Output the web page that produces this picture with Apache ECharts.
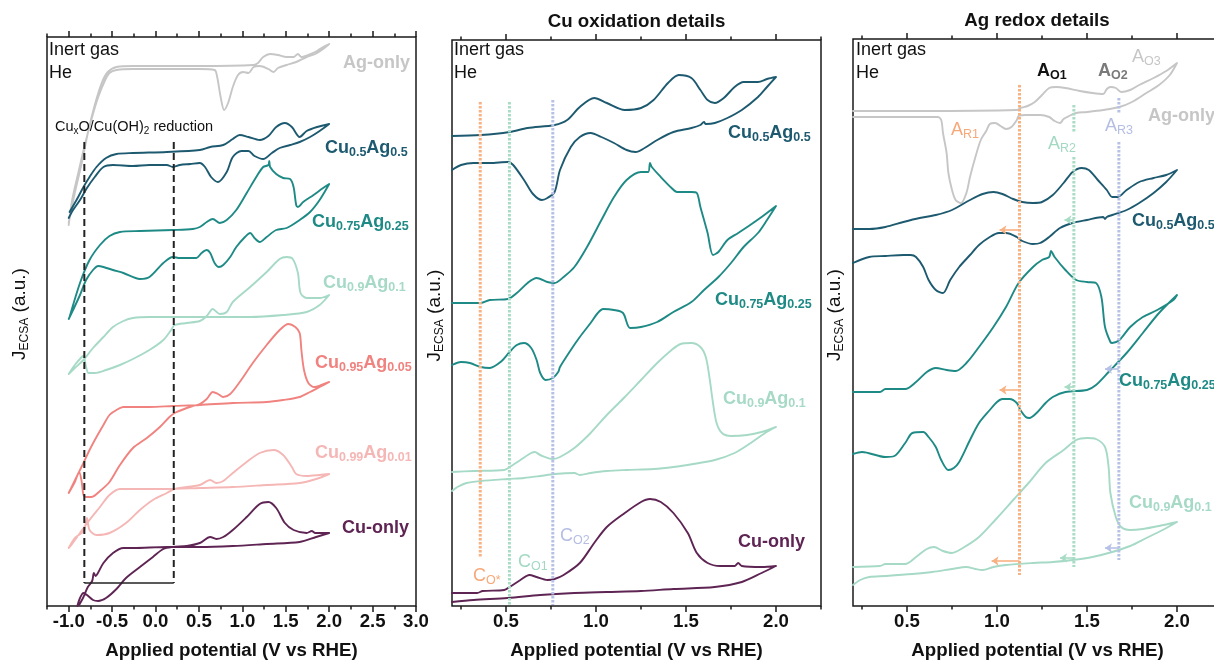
<!DOCTYPE html>
<html><head><meta charset="utf-8">
<script src="https://cdn.jsdelivr.net/npm/echarts@6/dist/echarts.min.js"></script>
<style>html,body{margin:0;padding:0;background:#fff;}#c{width:1214px;height:664px;}</style>
</head><body><div id="c"></div>
<script>
// ---------------- DATA (potential V vs RHE, current a.u.) ----------------
// Panel 1 : full window
const p1Ag = [[-1.00,383],[-0.93,413],[-0.85,443],[-0.78,473],[-0.70,501],[-0.62,523],[-0.55,534],[-0.45,539],[-0.26,540],[0.51,540],[1.13,541],[1.18,543],[1.24,549],[1.32,552],[1.41,551],[1.51,549],[1.59,549],[1.64,552],[1.68,549],[1.76,551],[1.86,555],[1.93,559],[2.00,562],[1.93,557],[1.84,552],[1.74,549],[1.62,544],[1.51,541],[1.41,538],[1.36,534],[1.30,537],[1.20,540],[1.13,539],[1.07,533],[1.01,534],[0.95,531],[0.89,519],[0.84,504],[0.79,496],[0.75,509],[0.71,529],[0.68,536],[0.51,537],[-0.26,537],[-0.45,536],[-0.53,533],[-0.58,526],[-0.66,509],[-0.74,486],[-0.82,459],[-0.89,433],[-0.96,406],[-1.00,381]];
const p1Cu50 = [[-0.99,394],[-0.91,406],[-0.83,419],[-0.76,429],[-0.68,439],[-0.57,448],[-0.45,452],[-0.26,453],[0.13,454],[0.51,456],[0.63,459],[0.78,461],[0.89,467],[0.97,471],[1.07,469],[1.20,466],[1.30,470],[1.39,479],[1.49,483],[1.57,479],[1.66,469],[1.74,475],[1.86,479],[2.00,482],[1.89,475],[1.78,469],[1.66,464],[1.55,461],[1.43,458],[1.34,453],[1.24,447],[1.14,450],[1.07,455],[0.99,455],[0.89,449],[0.82,434],[0.72,424],[0.64,429],[0.57,439],[0.51,443],[0.40,442],[0.28,441],[0.20,439],[0.13,441],[-0.07,441],[-0.26,440],[-0.49,441],[-0.60,439],[-0.70,429],[-0.79,418],[-0.87,406],[-0.95,396],[-1.00,388]];
const p1Cu75 = [[-0.99,289],[-0.87,323],[-0.76,346],[-0.64,361],[-0.53,370],[-0.41,374],[-0.18,375],[0.20,376],[0.43,377],[0.51,379],[0.59,384],[0.66,387],[0.74,383],[0.82,386],[0.93,396],[1.05,413],[1.16,429],[1.24,439],[1.30,441],[1.31,445],[1.32,439],[1.39,432],[1.47,428],[1.55,427],[1.59,419],[1.62,401],[1.64,399],[1.70,404],[1.82,411],[1.93,418],[2.00,422],[1.89,406],[1.78,394],[1.66,386],[1.51,378],[1.39,376],[1.28,369],[1.20,364],[1.14,368],[1.09,373],[1.03,369],[0.93,359],[0.86,349],[0.78,341],[0.73,339],[0.68,343],[0.63,353],[0.59,356],[0.53,353],[0.47,348],[0.39,348],[0.28,348],[0.20,349],[0.09,343],[-0.07,329],[-0.18,327],[-0.37,333],[-0.49,336],[-0.60,339],[-0.66,340],[-0.72,336],[-0.80,326],[-0.87,311],[-0.95,296],[-1.00,287]];
const p1Cu90 = [[-1.00,232],[-0.93,241],[-0.85,249],[-0.83,250],[-0.80,239],[-0.77,233],[-0.70,233],[-0.57,236],[-0.41,241],[-0.26,247],[-0.07,256],[0.09,266],[0.18,276],[0.22,281],[0.36,283],[0.51,285],[0.59,290],[0.66,297],[0.74,292],[0.82,294],[0.89,304],[1.09,319],[1.28,334],[1.43,347],[1.51,349],[1.58,347],[1.64,333],[1.67,313],[1.74,308],[1.89,308],[2.00,311],[1.89,301],[1.74,294],[1.47,291],[1.09,289],[0.70,289],[0.32,289],[-0.07,289],[-0.26,288],[-0.37,285],[-0.49,279],[-0.60,269],[-0.72,258],[-0.83,246],[-0.93,238],[-1.00,232]];
const p1Cu95 = [[-1.00,113],[-0.93,124],[-0.88,134],[-0.85,124],[-0.83,111],[-0.80,109],[-0.74,109],[-0.64,115],[-0.53,124],[-0.41,141],[-0.26,158],[-0.10,168],[0.05,179],[0.16,189],[0.22,193],[0.36,198],[0.51,202],[0.59,207],[0.66,214],[0.72,212],[0.78,209],[0.86,212],[0.97,224],[1.12,243],[1.28,261],[1.43,276],[1.53,282],[1.61,279],[1.66,273],[1.68,256],[1.71,236],[1.76,223],[1.83,219],[1.91,221],[2.00,224],[1.89,219],[1.78,214],[1.66,209],[1.47,206],[1.28,204],[0.89,203],[0.51,201],[0.20,200],[-0.07,199],[-0.26,199],[-0.37,199],[-0.45,196],[-0.53,191],[-0.60,181],[-0.68,169],[-0.76,156],[-0.83,143],[-0.91,129],[-1.00,113]];
const p1Cu99 = [[-1.00,58],[-0.93,68],[-0.85,73],[-0.82,76],[-0.79,88],[-0.76,76],[-0.68,71],[-0.53,73],[-0.34,83],[-0.18,96],[-0.03,106],[0.13,113],[0.22,117],[0.36,119],[0.51,121],[0.63,126],[0.70,123],[0.78,125],[0.89,133],[1.05,144],[1.20,153],[1.36,156],[1.47,151],[1.57,139],[1.62,132],[1.74,130],[1.89,131],[2.00,132],[1.85,127],[1.66,123],[1.28,121],[0.89,119],[0.51,118],[0.13,117],[-0.26,117],[-0.41,117],[-0.53,111],[-0.64,99],[-0.76,86],[-0.87,73],[-0.97,61],[-1.00,58]];
const p1Cu = [[-0.90,0],[-0.87,8],[-0.83,13],[-0.79,11],[-0.72,6],[-0.66,5],[-0.57,8],[-0.45,17],[-0.34,28],[-0.18,39],[-0.03,49],[0.09,57],[0.20,59],[0.36,60],[0.51,63],[0.63,69],[0.70,67],[0.78,69],[0.89,76],[1.05,89],[1.20,102],[1.30,104],[1.39,98],[1.49,83],[1.59,76],[1.74,73],[1.80,75],[1.84,73],[2.00,73],[1.85,69],[1.66,64],[1.28,62],[0.89,60],[0.51,59],[0.13,59],[-0.26,58],[-0.37,58],[-0.49,53],[-0.60,43],[-0.67,32],[-0.69,30],[-0.71,33],[-0.73,25],[-0.78,19],[-0.83,9],[-0.88,1]];

// Panel 2 : Cu oxidation details
const p2Cu50 = [[0.20,470],[0.36,471],[0.52,474],[0.62,478],[0.77,481],[0.84,486],[0.91,499],[0.99,508],[1.06,503],[1.16,496],[1.25,498],[1.32,506],[1.40,523],[1.46,531],[1.53,528],[1.58,516],[1.62,506],[1.66,503],[1.71,508],[1.77,519],[1.82,524],[1.90,524],[1.95,527],[2.00,529],[1.95,519],[1.90,509],[1.81,496],[1.73,488],[1.66,483],[1.61,482],[1.60,484],[1.58,481],[1.53,478],[1.43,474],[1.34,466],[1.27,458],[1.22,454],[1.17,456],[1.10,463],[1.03,469],[0.97,473],[0.91,469],[0.86,459],[0.80,436],[0.77,414],[0.73,408],[0.70,406],[0.65,412],[0.60,426],[0.54,441],[0.51,444],[0.41,443],[0.32,443],[0.25,441],[0.20,436]];
const p2Cu75 = [[0.20,303],[0.36,303],[0.41,306],[0.51,307],[0.56,313],[0.62,323],[0.67,328],[0.73,324],[0.77,323],[0.82,329],[0.88,339],[0.95,359],[1.03,386],[1.10,409],[1.17,426],[1.25,434],[1.29,434],[1.30,443],[1.31,439],[1.36,429],[1.42,418],[1.45,414],[1.53,414],[1.56,413],[1.58,399],[1.62,373],[1.65,351],[1.68,354],[1.73,366],[1.79,373],[1.84,379],[1.92,389],[2.00,400],[1.95,386],[1.90,373],[1.82,359],[1.75,343],[1.68,329],[1.60,316],[1.53,304],[1.43,294],[1.34,284],[1.25,279],[1.19,278],[1.15,293],[1.10,296],[1.04,297],[1.01,293],[0.97,283],[0.91,269],[0.86,256],[0.80,239],[0.79,234],[0.76,228],[0.72,226],[0.69,233],[0.67,246],[0.64,258],[0.60,263],[0.56,261],[0.52,254],[0.47,244],[0.41,238],[0.36,239],[0.30,243],[0.25,244],[0.20,241]];
const p2Cu90 = [[0.20,134],[0.32,135],[0.49,136],[0.52,139],[0.58,146],[0.64,153],[0.66,154],[0.69,151],[0.76,147],[0.80,149],[0.88,158],[0.97,173],[1.06,191],[1.16,209],[1.25,226],[1.34,243],[1.42,256],[1.47,262],[1.53,263],[1.58,259],[1.61,249],[1.63,229],[1.65,203],[1.67,183],[1.70,173],[1.75,170],[1.84,171],[1.92,174],[2.00,179],[1.94,173],[1.86,163],[1.77,153],[1.66,146],[1.54,142],[1.43,139],[1.32,137],[1.17,136],[1.06,135],[0.97,133],[0.91,131],[0.88,133],[0.77,132],[0.69,130],[0.60,128],[0.51,127],[0.36,125],[0.28,123],[0.23,119],[0.20,115]];
const p2Cu = [[0.20,13],[0.34,13],[0.37,15],[0.49,16],[0.52,19],[0.58,26],[0.63,31],[0.67,29],[0.73,26],[0.77,27],[0.82,31],[0.91,43],[0.99,63],[1.06,79],[1.16,93],[1.25,104],[1.30,107],[1.36,104],[1.43,93],[1.51,73],[1.56,53],[1.62,43],[1.69,40],[1.77,40],[1.79,43],[1.81,40],[1.92,39],[2.00,40],[1.92,33],[1.81,24],[1.66,19],[1.43,17],[1.25,15],[1.06,14],[0.88,13],[0.69,11],[0.51,8],[0.32,6],[0.20,4]];

// Panel 3 : Ag redox details
const p3Ag = [[0.20,495],[0.57,495],[1.11,496],[1.13,498],[1.17,500],[1.21,504],[1.25,511],[1.29,518],[1.33,519],[1.38,518],[1.46,515],[1.53,513],[1.59,512],[1.61,517],[1.63,519],[1.66,518],[1.69,514],[1.74,516],[1.79,521],[1.87,528],[1.94,535],[2.00,543],[1.96,531],[1.90,521],[1.83,513],[1.75,504],[1.68,499],[1.59,496],[1.50,494],[1.44,493],[1.40,490],[1.37,487],[1.35,483],[1.32,485],[1.29,489],[1.24,491],[1.16,491],[1.12,490],[1.11,486],[1.08,479],[1.05,477],[1.02,480],[0.99,483],[0.96,482],[0.94,475],[0.91,466],[0.88,449],[0.85,429],[0.83,413],[0.80,403],[0.77,406],[0.75,416],[0.73,433],[0.72,453],[0.70,473],[0.69,486],[0.67,489],[0.57,489],[0.20,489]];
const p3Cu50 = [[0.20,377],[0.29,377],[0.38,379],[0.48,384],[0.57,388],[0.66,391],[0.75,396],[0.85,406],[0.92,412],[0.98,414],[1.03,412],[1.09,407],[1.14,404],[1.20,403],[1.25,404],[1.31,411],[1.37,423],[1.42,434],[1.47,438],[1.51,436],[1.56,426],[1.61,416],[1.64,409],[1.67,409],[1.72,416],[1.79,424],[1.87,428],[1.94,431],[2.00,436],[1.94,424],[1.87,413],[1.79,403],[1.72,396],[1.64,391],[1.61,389],[1.60,387],[1.59,389],[1.50,386],[1.42,383],[1.35,378],[1.29,369],[1.24,363],[1.20,362],[1.14,365],[1.11,369],[1.05,373],[1.01,373],[0.96,369],[0.90,361],[0.85,351],[0.79,339],[0.74,326],[0.70,313],[0.66,316],[0.62,326],[0.59,339],[0.55,349],[0.52,351],[0.48,351],[0.38,350],[0.29,349],[0.20,343]];
const p3Cu75 = [[0.20,214],[0.35,214],[0.38,217],[0.49,217],[0.55,224],[0.61,234],[0.66,238],[0.72,236],[0.77,235],[0.83,243],[0.90,259],[0.98,279],[1.05,299],[1.12,323],[1.20,339],[1.25,346],[1.29,349],[1.30,355],[1.32,349],[1.38,336],[1.44,326],[1.50,324],[1.55,323],[1.58,309],[1.60,279],[1.63,264],[1.64,263],[1.68,266],[1.74,279],[1.81,289],[1.89,296],[1.98,306],[2.00,311],[1.90,293],[1.81,273],[1.72,253],[1.62,234],[1.55,221],[1.50,216],[1.38,214],[1.31,209],[1.27,203],[1.22,193],[1.18,188],[1.16,189],[1.13,196],[1.11,203],[1.07,207],[1.03,207],[1.00,204],[0.96,196],[0.90,183],[0.85,166],[0.79,144],[0.76,138],[0.73,136],[0.69,146],[0.66,159],[0.62,169],[0.59,174],[0.53,173],[0.49,163],[0.43,150],[0.38,149],[0.25,154],[0.20,152]];
const p3Cu90 = [[0.20,39],[0.35,40],[0.38,42],[0.49,42],[0.55,49],[0.61,57],[0.65,59],[0.70,55],[0.75,53],[0.81,58],[0.90,69],[0.99,86],[1.09,106],[1.18,124],[1.27,143],[1.37,156],[1.44,166],[1.50,168],[1.55,167],[1.60,159],[1.62,139],[1.63,113],[1.66,89],[1.69,79],[1.74,76],[1.81,77],[1.90,80],[2.00,84],[1.92,76],[1.83,68],[1.74,60],[1.64,54],[1.53,49],[1.42,46],[1.31,44],[1.20,43],[1.05,41],[0.98,39],[0.92,36],[0.88,37],[0.83,39],[0.75,37],[0.64,34],[0.53,32],[0.38,30],[0.29,29],[0.24,26],[0.20,21]];

// Tick values
const ticks1Major = [-1.0,-0.5,0.0,0.5,1.0,1.5,2.0,2.5,3.0];
const ticks1Minor = [-1.25,-0.75,-0.25,0.25,0.75,1.25,1.75,2.25,2.75];
const ticks23Major = [0.5,1.0,1.5,2.0];
const ticks23Minor = [0.25,0.75,1.25,1.75,2.25];

// Annotation lines: [x, yFrom, yTo]
const reductionLines = [[-0.82,464,23],[0.21,464,23]];
const reductionBracket = [[-0.82,23],[0.21,23]];
const cuOxLines = [[0.357,504,48],[0.519,504,1],[0.76,506,1]];
const agOrange = [[1.125,521,31]];
const agGreen = [[1.427,501,473],[1.427,449,39]];
const agLav = [[1.677,508,493],[1.677,464,46]];
// Arrows: [xFrom, xTo, y]
const arrowsOrange = [[1.125,1.014,376],[1.125,1.014,216],[1.125,0.97,45]];
const arrowsGreen = [[1.427,1.375,386],[1.427,1.375,219],[1.427,1.35,48]];
const arrowsLav = [[1.677,1.60,237],[1.677,1.60,58]];

// ---------------- STYLE ----------------
const FONT = "'Liberation Sans', Arial, sans-serif";
const C = {
  ag:'#c6c6c6', c50:'#1d5a70', c75:'#1e8a85', c90:'#a6dac6', c95:'#f0837f', c99:'#f5b7b5', cu:'#5e2453',
  dOr:'#f8b183', dGr:'#a8dcc5', dLv:'#b7c0e6'
};
const grids = [
  {left:47, top:37, width:369, height:569},
  {left:452, top:40, width:369, height:566},
  {left:853, top:39, width:369, height:567}
];
const xr = [[-1.25,3.0],[0.2,2.25],[0.2,2.25]];
const nameGaps = [16,6,7];

const xAxis = [], yAxis = [];
grids.forEach((g,gi)=>{
  const majors = gi===0?ticks1Major:ticks23Major, minors = gi===0?ticks1Minor:ticks23Minor;
  const common = {gridIndex:gi, type:'value', min:xr[gi][0], max:xr[gi][1], splitLine:{show:false}, axisLine:{show:false}};
  const tl = {color:'#1a1a1a', width:1.5};
  xAxis.push({...common, position:'bottom',
    axisTick:{show:true, inside:false, length:6, customValues:majors, lineStyle:tl},
    axisLabel:{show:true, customValues:majors, formatter:v=>v.toFixed(1), margin:6, fontSize:18.6, fontWeight:'bold', color:'#111', fontFamily:FONT},
    name:'Applied potential (V vs RHE)', nameLocation:'middle', nameGap:35, nameMoveOverlap:false,
    nameTextStyle:{fontSize:18.7, fontWeight:'bold', color:'#111', fontFamily:FONT}});
  xAxis.push({...common, position:'bottom', axisTick:{show:true, inside:false, length:3.5, customValues:minors, lineStyle:tl}, axisLabel:{show:false}});
  xAxis.push({...common, position:'top', axisTick:{show:true, inside:false, length:6, customValues:majors, lineStyle:tl}, axisLabel:{show:false}});
  xAxis.push({...common, position:'top', axisTick:{show:true, inside:false, length:3.5, customValues:minors, lineStyle:tl}, axisLabel:{show:false}});
  yAxis.push({gridIndex:gi, type:'value', min:0, max:g.height, axisLine:{show:false}, axisTick:{show:false}, axisLabel:{show:false}, splitLine:{show:false},
    name:'{j|J}{s|ECSA}{j| (a.u.)}', nameLocation:'middle', nameRotate:90, nameGap:nameGaps[gi], nameMoveOverlap:false,
    nameTextStyle:{padding:[0,0,0,15], rich:{
      j:{fontSize:19, color:'#111', fontFamily:FONT, lineHeight:22},
      s:{fontSize:12, color:'#111', fontFamily:FONT, lineHeight:13, verticalAlign:'bottom'}}}});
});

const series = [];
function curve(gi, data, color){
  series.push({type:'line', xAxisIndex:gi*4, yAxisIndex:gi, data, smooth:0.3, symbol:'none', showSymbol:false, silent:true, z:2,
    lineStyle:{color, width:1.9, cap:'round', join:'round'}});
}
function vlines(gi, lines, color, dash, width, arrows){
  lines.forEach((l,i)=>{
    const s = {type:'line', xAxisIndex:gi*4, yAxisIndex:gi, data:[[l[0],l[1]],[l[0],l[2]]], symbol:'none', showSymbol:false, silent:true, z:3,
      lineStyle:{color, width, type:dash, cap:'butt'}};
    if (arrows && i===0) {
      s.markLine = {silent:true, symbol:['none','arrow'], symbolSize:7, label:{show:false}, animation:false,
        lineStyle:{color, width:1.6, type:'solid'},
        data: arrows.map(a=>[{coord:[a[0],a[2]]},{coord:[a[1],a[2]]}])};
    }
    series.push(s);
  });
}
// panel 1
curve(0,p1Ag,C.ag); curve(0,p1Cu50,C.c50); curve(0,p1Cu75,C.c75); curve(0,p1Cu90,C.c90);
curve(0,p1Cu95,C.c95); curve(0,p1Cu99,C.c99); curve(0,p1Cu,C.cu);
vlines(0, reductionLines, '#222', [7,4], 2);
series.push({type:'line', xAxisIndex:0, yAxisIndex:0, data:reductionBracket, symbol:'none', silent:true, z:3, lineStyle:{color:'#222', width:1.6}});
// panel 2
curve(1,p2Cu50,C.c50); curve(1,p2Cu75,C.c75); curve(1,p2Cu90,C.c90); curve(1,p2Cu,C.cu);
vlines(1, [cuOxLines[0]], C.dOr, [2.5,1.5], 3);
vlines(1, [cuOxLines[1]], C.dGr, [2.5,1.5], 3);
vlines(1, [cuOxLines[2]], C.dLv, [2.5,1.5], 3);
// panel 3
curve(2,p3Ag,C.ag); curve(2,p3Cu50,C.c50); curve(2,p3Cu75,C.c75); curve(2,p3Cu90,C.c90);
vlines(2, agOrange, C.dOr, [2.5,1.5], 3, arrowsOrange);
vlines(2, agGreen, C.dGr, [2.5,1.5], 3, arrowsGreen);
vlines(2, agLav, C.dLv, [2.5,1.5], 3, arrowsLav);

// ---------------- TEXT LABELS ----------------
function lab(text, x, cy, color, size, weight, subSize, align, subLH){
  const L = size + 4;
  return {text, left:x, top:cy - L/2, padding:0, itemGap:0, textAlign:align||'left', textVerticalAlign:'top',
    textStyle:{fontSize:size, fontWeight:weight, color, fontFamily:FONT, rich:{
      a:{fontSize:size, fontWeight:weight, color, fontFamily:FONT, lineHeight:L},
      s:{fontSize:subSize||12, fontWeight:weight, color, fontFamily:FONT, lineHeight:subLH||6, verticalAlign:'bottom'}}}};
}
const nm = (a,b,c,d)=>'{a|'+a+'}{s|'+b+'}{a|'+c+'}{s|'+d+'}';
const titles = [
  // panel 1
  lab('{a|Inert gas}',49,50,'#111',18,'normal'),
  lab('{a|He}',49,73,'#111',18,'normal'),
  lab('{a|Ag-only}',343,63,C.ag,18,'bold'),
  lab('{a|Cu}{s|x}{a|O/Cu(OH)}{s|2}{a| reduction}',55,127,'#111',14.5,'normal',10,'left',8),
  lab(nm('Cu','0.5','Ag','0.5'),325,148,C.c50,18,'bold',12.5),
  lab(nm('Cu','0.75','Ag','0.25'),312,222.5,C.c75,18,'bold',12.5),
  lab(nm('Cu','0.9','Ag','0.1'),323,283,C.c90,18,'bold',12.5),
  lab(nm('Cu','0.95','Ag','0.05'),315,363.5,C.c95,18,'bold',12.5),
  lab(nm('Cu','0.99','Ag','0.01'),315,453,C.c99,18,'bold',12.5),
  lab('{a|Cu-only}',342,528,C.cu,18,'bold'),
  // panel 2
  lab('{a|Cu oxidation details}',636.5,21.7,'#111',18.7,'bold',12,'center'),
  lab('{a|Inert gas}',454,49.7,'#111',18,'normal'),
  lab('{a|He}',454,73,'#111',18,'normal'),
  lab(nm('Cu','0.5','Ag','0.5'),728,133,C.c50,18,'bold',12.5),
  lab(nm('Cu','0.75','Ag','0.25'),715,300,C.c75,18,'bold',12.5),
  lab(nm('Cu','0.9','Ag','0.1'),723,399.5,C.c90,18,'bold',12.5),
  lab('{a|Cu-only}',738,542,C.cu,18,'bold'),
  lab('{a|C}{s|O*}',473,576.5,'#f7a878',18,'normal',12.5),
  lab('{a|C}{s|O1}',518,562.5,'#a3d9c2',18,'normal',12.5),
  lab('{a|C}{s|O2}',560,536.5,'#b5bde3',18,'normal',12.5),
  // panel 3
  lab('{a|Ag redox details}',1037,21.2,'#111',18.7,'bold',12,'center'),
  lab('{a|Inert gas}',856,49.7,'#111',18,'normal'),
  lab('{a|He}',856,73,'#111',18,'normal'),
  lab('{a|A}{s|O1}',1037,70.7,'#111',18,'bold',12.5),
  lab('{a|A}{s|O2}',1098,70.7,'#7a7a7a',18,'bold',12.5),
  lab('{a|A}{s|O3}',1132,57.5,'#c6c6c6',18,'normal',12.5),
  lab('{a|Ag-only}',1148,116.5,C.ag,18,'bold'),
  lab('{a|A}{s|R1}',951,130,'#f7a878',18,'normal',12.5),
  lab('{a|A}{s|R2}',1048,144.5,'#a3d9c2',18,'normal',12.5),
  lab('{a|A}{s|R3}',1105,126.3,'#b5bde3',18,'normal',12.5),
  lab(nm('Cu','0.5','Ag','0.5'),1132,221.5,C.c50,18,'bold',12.5),
  lab(nm('Cu','0.75','Ag','0.25'),1119,381.5,C.c75,18,'bold',12.5),
  lab(nm('Cu','0.9','Ag','0.1'),1129,503,C.c90,18,'bold',12.5)
];

const chart = echarts.init(document.getElementById('c'), null, {renderer:'canvas', width:1214, height:664});
chart.setOption({
  animation:false,
  backgroundColor:'#ffffff',
  textStyle:{fontFamily:FONT},
  title: titles,
  grid: grids.map(g=>({...g, show:true, borderColor:'#1a1a1a', borderWidth:1.5, backgroundColor:'transparent', containLabel:false, outerBoundsMode:'none'})),
  xAxis, yAxis, series
});
</script></body></html>
